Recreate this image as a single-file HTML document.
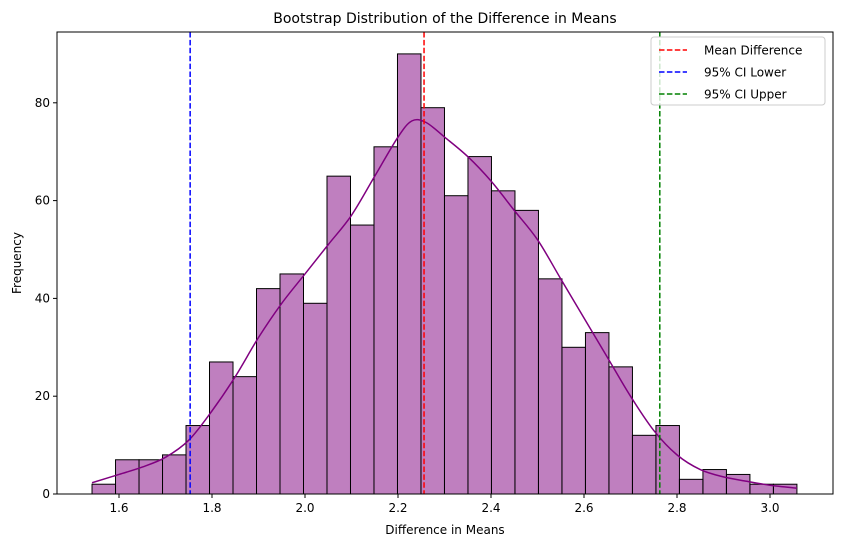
<!DOCTYPE html>
<html><head><meta charset="utf-8"><style>
body{margin:0;background:#fff;font-family:"Liberation Sans","DejaVu Sans",sans-serif}
svg text{font-family:"DejaVu Sans","Liberation Sans",sans-serif}
</style></head><body>
<svg id="chart" width="841" height="547" xmlns="http://www.w3.org/2000/svg">
<rect width="841" height="547" fill="#fff"/>
<g id="bars"></g><g id="lines"></g><g id="axes"></g>
</svg>
<script>
const binStart = 1.542;
const binWidth = 0.05053;
const counts = [2,7,7,8,14,27,24,42,45,39,65,55,71,90,79,61,69,62,58,44,30,33,26,12,14,3,5,4,2,2];
const kdeX = [1.542,1.6,1.65,1.7,1.75,1.8,1.85,1.9,1.95,2.0,2.05,2.1,2.15,2.2,2.23,2.26,2.3,2.35,2.4,2.45,2.5,2.55,2.6,2.65,2.7,2.75,2.8,2.85,2.9,2.95,3.0,3.058];
const kdeY = [2.3,4,5.5,7.5,11,17,24,32,39,45,51,57,65,73,76.3,76,73,69,64,58,52,44,36,28,20,13,8,5,3.5,2.6,1.8,1.2];
const xTicks = [1.6,1.8,2.0,2.2,2.4,2.6,2.8,3.0];
const yTicks = [0,20,40,60,80];
const meanDiff = 2.256, ciLow = 1.753, ciHigh = 2.763;

const L=57,R=833,T=32,B=494;
const xs=v=>119+(v-1.6)*465;
const ys=v=>B-v*4.89;
const NS="http://www.w3.org/2000/svg";
function mk(tag,attrs,parent,txt){const e=document.createElementNS(NS,tag);for(const k in attrs)e.setAttribute(k,attrs[k]);if(txt!==undefined)e.textContent=txt;document.getElementById(parent).appendChild(e);return e;}
counts.forEach((c,i)=>{
  const x0=xs(binStart+i*binWidth),x1=xs(binStart+(i+1)*binWidth);
  const r=mk('rect',{x:x0,y:ys(c),width:x1-x0,height:B-ys(c),fill:'rgba(128,0,128,0.5)',stroke:'#000','stroke-width':1},'bars');
  
  
});
const pts=kdeX.map((x,i)=>[xs(x),ys(kdeY[i])]);
let d='M'+pts[0][0]+','+pts[0][1];
for(let i=0;i<pts.length-1;i++){
  const p0=pts[Math.max(0,i-1)],p1=pts[i],p2=pts[i+1],p3=pts[Math.min(pts.length-1,i+2)];
  const c1=[p1[0]+(p2[0]-p0[0])/6,p1[1]+(p2[1]-p0[1])/6];
  const c2=[p2[0]-(p3[0]-p1[0])/6,p2[1]-(p3[1]-p1[1])/6];
  d+=`C${c1[0]},${c1[1]} ${c2[0]},${c2[1]} ${p2[0]},${p2[1]}`;
}
const p=mk('path',{d:d,fill:'none',stroke:'#800080','stroke-width':1.5},'lines');


[[meanDiff,'red','mean-difference-line'],[ciLow,'blue','ci-lower-line'],[ciHigh,'green','ci-upper-line']].forEach(([v,c,n])=>{
  const l=mk('line',{x1:xs(v),x2:xs(v),y1:T,y2:B,stroke:c,'stroke-width':1.5,'stroke-dasharray':'5.5,2.4'},'lines');
  
  
});
const fr=mk('rect',{x:L,y:T,width:R-L,height:B-T,fill:'none',stroke:'#000','stroke-width':1},'axes');


xTicks.forEach(v=>{
  mk('line',{x1:xs(v),x2:xs(v),y1:B,y2:B+4,stroke:'#000'},'axes');
  const t=mk('text',{x:xs(v),y:B+18,'font-size':12,'text-anchor':'middle'},'axes',v.toFixed(1));
  
  
});
yTicks.forEach(v=>{
  mk('line',{x1:L-4,x2:L,y1:ys(v),y2:ys(v),stroke:'#000'},'axes');
  const t=mk('text',{x:L-7,y:ys(v)+4,'font-size':12,'text-anchor':'end'},'axes',String(v));
  
  
});
const tt=mk('text',{x:445,y:23,'font-size':14,'text-anchor':'middle'},'axes','Bootstrap Distribution of the Difference in Means');


const xt=mk('text',{x:445,y:534,'font-size':12,'text-anchor':'middle'},'axes','Difference in Means');


const yt=mk('text',{x:21,y:263,'font-size':12,'text-anchor':'middle',transform:'rotate(-90 21 263)'},'axes','Frequency');


const lg=mk('rect',{x:651,y:37,width:174,height:68,rx:3,fill:'#fff','fill-opacity':0.8,stroke:'#ccc'},'axes');


[['Mean Difference','red'],['95% CI Lower','blue'],['95% CI Upper','green']].forEach(([s,c],i)=>{
  const y=50+i*22;
  mk('line',{x1:659,x2:687,y1:y,y2:y,stroke:c,'stroke-width':1.5,'stroke-dasharray':'5.5,2.4'},'axes');
  const t=mk('text',{x:704,y:y+4.5,'font-size':12},'axes',s);
  
  
});
</script>
</body></html>
